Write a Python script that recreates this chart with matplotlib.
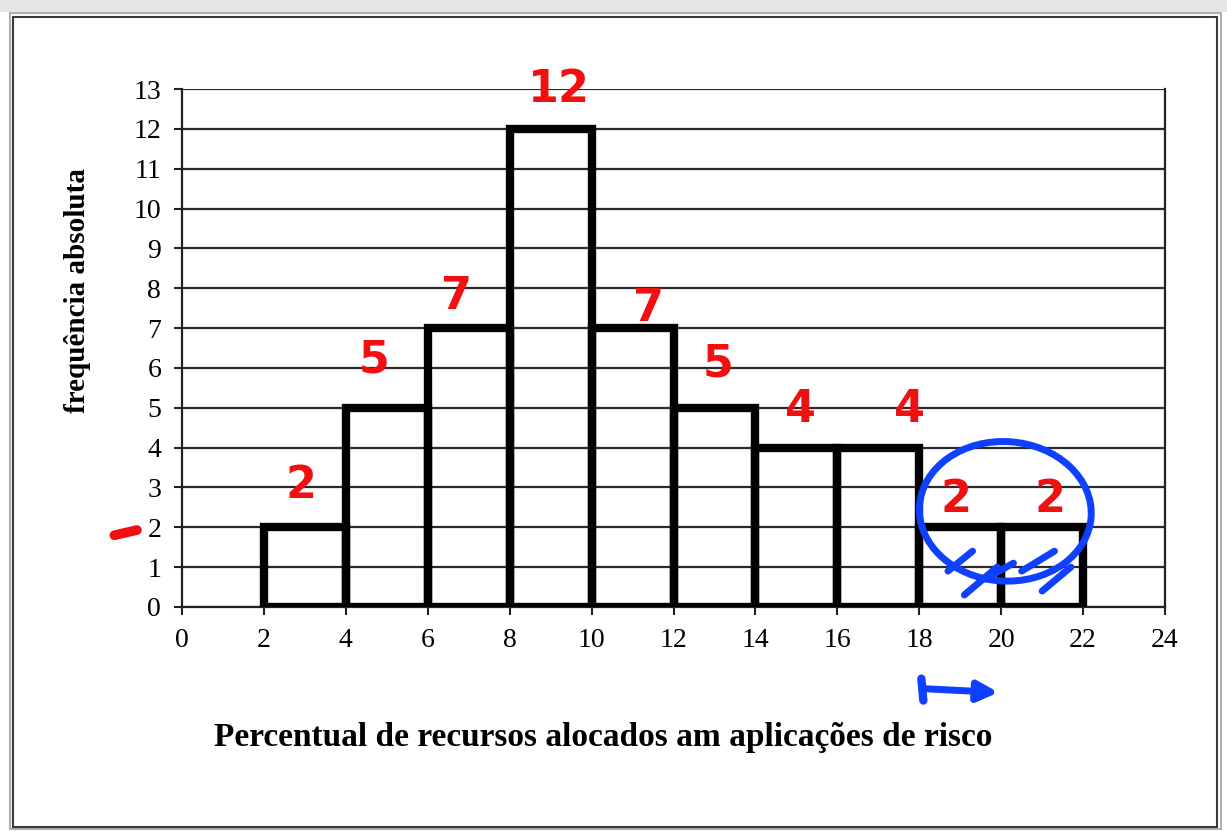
"""Histogram of resource allocation with hand-drawn annotations."""

import matplotlib

matplotlib.use("Agg")
import matplotlib.pyplot as plt  # noqa: E402
from matplotlib.patches import Ellipse, Rectangle  # noqa: E402

# data
bin_edges = [2, 4, 6, 8, 10, 12, 14, 16, 18, 20, 22]
frequencies = [2, 5, 7, 12, 7, 5, 4, 4, 2, 2]
x_ticks = list(range(0, 25, 2))
y_ticks = list(range(0, 14))
x_label = "Percentual de recursos alocados am aplicações de risco"
y_label = "frequência absoluta"

# hand-written label offsets (relative to bar centre / top)
note_dx = [-0.1, -0.3, -0.3, 0.2, 0.4, 0.1, 0.1, 0.75, -0.1, 0.2]
note_dy = [1.05, 1.2, 0.8, 1.0, 0.5, 1.1, 0.95, 0.95, 0.7, 0.7]

fig = plt.figure(figsize=(12.27, 8.31), dpi=100)
fig.patch.set_facecolor("white")

# window frame
fig.add_artist(Rectangle((0, 0.986), 1, 0.014, transform=fig.transFigure,
                         facecolor="#e6e6e6", edgecolor="none"))
fig.add_artist(Rectangle((0.008, 0.002), 0.987, 0.982, transform=fig.transFigure,
                         fill=False, edgecolor="#b0b0b0", linewidth=1.5))
fig.add_artist(Rectangle((0.011, 0.005), 0.981, 0.975, transform=fig.transFigure,
                         fill=False, edgecolor="#3a3a3a", linewidth=1.5))

ax = fig.add_axes([0.1483, 0.2696, 0.8012, 0.6233])
serif = "Liberation Serif"

ax.set_xlim(0, 24)
ax.set_ylim(0, 13)
ax.set_xticks(x_ticks)
ax.set_yticks(y_ticks)
ax.tick_params(axis="both", direction="out", length=6, width=1.5, color="#222222",
               labelsize=20, pad=9)
for lab in ax.get_xticklabels() + ax.get_yticklabels():
    lab.set_fontfamily(serif)
ax.grid(axis="y", color="#2a2a2a", linewidth=1.6)
ax.set_axisbelow(True)
for side in ["left", "bottom", "right"]:
    ax.spines[side].set_color("#222222")
    ax.spines[side].set_linewidth(1.6)
ax.spines["top"].set_visible(False)

widths = [b - a for a, b in zip(bin_edges[:-1], bin_edges[1:])]
ax.bar(bin_edges[:-1], frequencies, width=widths, align="edge", fill=False,
       edgecolor="black", linewidth=6, joinstyle="miter", zorder=3)

ax.set_xlabel(x_label, fontfamily=serif, fontweight="bold", fontsize=24)
ax.xaxis.set_label_coords(0.428, -0.222)
ax.set_ylabel(y_label, fontfamily=serif, fontweight="bold", fontsize=21)
ax.yaxis.set_label_coords(-0.093, 0.61)

# red hand-written counts
for left, w, f, dx, dy in zip(bin_edges[:-1], widths, frequencies, note_dx, note_dy):
    ax.text(left + w / 2 + dx, f + dy, str(f), color="#f01010", fontsize=32,
            fontweight="bold", ha="center", va="center", zorder=5, clip_on=False)
ax.plot([-1.65, -1.1], [1.8, 1.93], color="#f01010", linewidth=7,
        solid_capstyle="round", clip_on=False, zorder=5)

# blue circle and marks
blue = "#1040ff"
ax.add_patch(Ellipse((20.1, 2.4), 4.2, 3.5, angle=-4, fill=False, edgecolor=blue,
                     linewidth=5, zorder=6))
for x0, y0, x1, y1 in [(18.7, 0.9, 19.3, 1.4), (19.1, 0.3, 19.9, 1.0),
                       (19.6, 0.7, 20.3, 1.1), (21.0, 0.4, 21.7, 1.0),
                       (20.5, 0.9, 21.3, 1.4)]:
    ax.plot([x0, x1], [y0, y1], color=blue, linewidth=5, solid_capstyle="round",
            zorder=6)
ax.annotate("", xy=(20.0, -2.15), xytext=(18.1, -2.05), xycoords="data",
            arrowprops=dict(arrowstyle="-|>", color=blue, lw=5, mutation_scale=30),
            annotation_clip=False)
ax.plot([18.05, 18.1], [-1.8, -2.35], color=blue, linewidth=6,
        solid_capstyle="round", clip_on=False)

fig.savefig("out.png", dpi=100)
